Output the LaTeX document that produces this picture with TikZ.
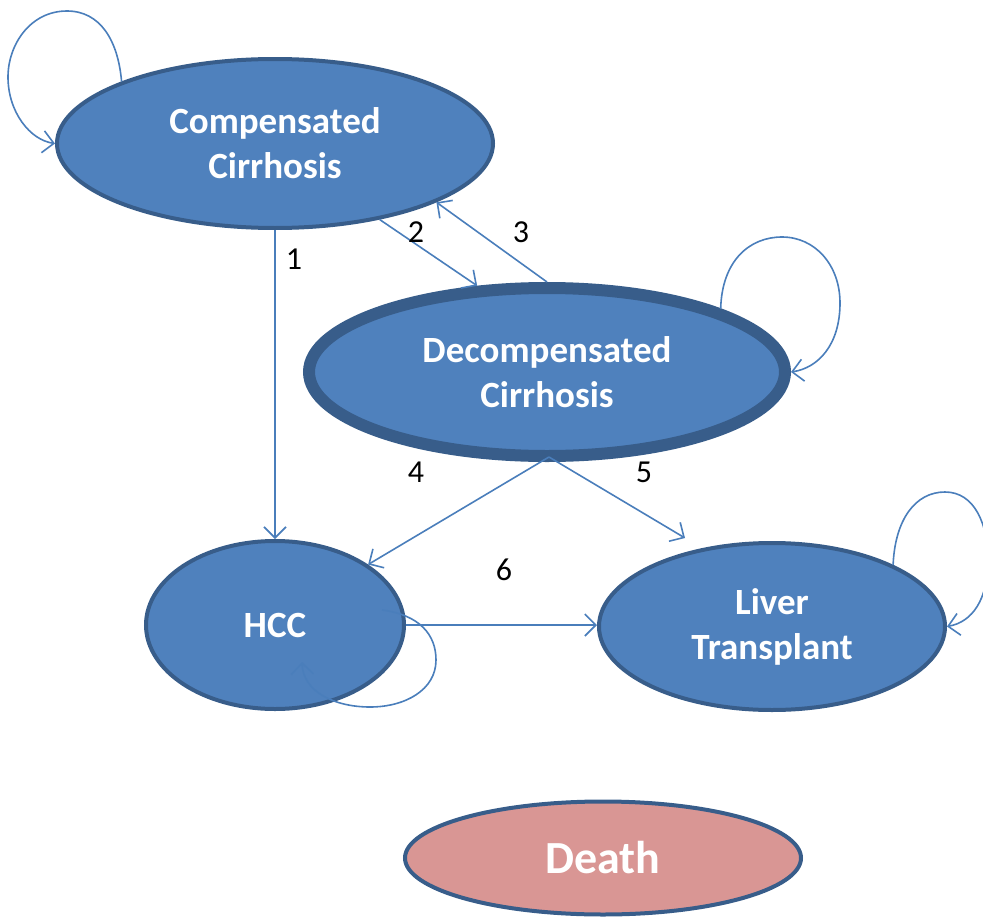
\documentclass[tikz,border=0pt]{standalone}
\usepackage{fontspec}
\setmainfont{Carlito}
\usetikzlibrary{shapes.geometric,arrows.meta,calc}
\definecolor{nodefill}{HTML}{4F81BD}
\definecolor{nodeline}{HTML}{385D8A}
\definecolor{deathfill}{HTML}{D99694}
\definecolor{arrowcol}{HTML}{4A7EBB}
\tikzset{
  state/.style={ellipse, draw=nodeline, fill=nodefill, line width=4pt, inner sep=0pt,
    align=center, text=white, font=\bfseries\fontsize{37}{45}\selectfont},
  conn/.style={draw=arrowcol, line width=1.6pt, -{Straight Barb[length=11pt,width=22pt,line width=1.6pt]}},
  num/.style={inner sep=0pt, text=black, font=\fontsize{32}{36}\selectfont}
}
\begin{document}
\begin{tikzpicture}[x=1pt,y=-1pt]
\useasboundingbox (0,0) rectangle (983,918);
\node[state, minimum width=436pt, minimum height=169pt] (cc) at (275,143.5) {Compensated\\Cirrhosis};
\node[state, line width=12pt, minimum width=476pt, minimum height=168pt] (dc) at (547,372) {Decompensated\\Cirrhosis};
\node[state, minimum width=258pt, minimum height=168pt] (hcc) at (275,625) {HCC};
\node[state, minimum width=346pt, minimum height=167pt] (lt) at (772,626.5) {Liver\\Transplant};
\node[state, fill=deathfill, minimum width=396pt, minimum height=113pt, font=\bfseries\fontsize{46}{50}\selectfont] (death) at (603,858) {Death};

% straight transitions
\draw[conn] (cc.south) -- (hcc.north);
\draw[conn] (cc.-36.8) -- (dc.129);
\draw[conn] (dc.north) -- (cc.-20.8);
\coordinate (dcs) at ($(dc.south)+(2,-5)$);
\coordinate (ltin) at (685,538);
\draw[conn] (dcs) -- (hcc.33);
\draw[conn] (dcs) -- (ltin);
\draw[conn] (hcc.east) -- (hcc.east -| lt.west);

% self loops
\draw[conn] (cc.158) .. controls (118,40) and (100,11) .. (67,11)
  .. controls (30,11) and (8,45) .. (8,77)
  .. controls (8,112) and (30,140) .. (cc.west);
\draw[conn] (dc.20) .. controls (722,260) and (750,237) .. (782,237)
  .. controls (815,237) and (840,265) .. (840,303)
  .. controls (840,345) and (818,368) .. (dc.east);
\draw[conn] (lt.27) .. controls (895,520) and (915,492) .. (945,492)
  .. controls (975,492) and (988,525) .. (988,560)
  .. controls (988,600) and (972,622) .. (lt.east);
\coordinate (hccA) at ($(hcc.center)+(107,-15)$);
\coordinate (hccB) at ($(hcc.center)+(27,37)$);
\draw[conn] (hccA) .. controls (420,615) and (436,635) .. (436,660)
  .. controls (436,690) and (405,707) .. (370,707)
  .. controls (335,707) and (303,692) .. (hccB);

% labels
\node[num] (n1) at (294,259) {1};
\node[num] (n2) at (416,232) {2};
\node[num] (n3) at (521,232) {3};
\node[num] (n4) at (416,472) {4};
\node[num] (n5) at (644,472) {5};
\node[num] (n6) at (504,570) {6};
\end{tikzpicture}
\end{document}
